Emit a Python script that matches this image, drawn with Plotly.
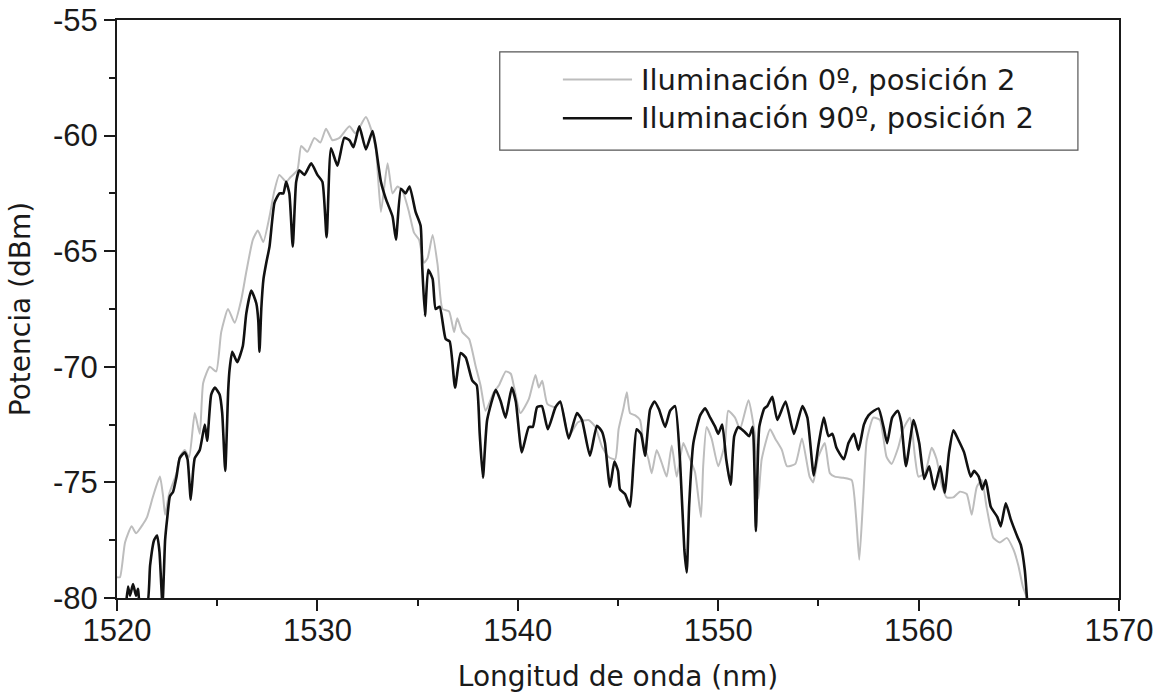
import plotly.graph_objects as go

# Optical spectra: wavelength (nm) vs power (dBm)
series_names = ["Iluminación 0º, posición 2", "Iluminación 90º, posición 2"]

wl_0deg = [
    1520.0, 1520.15, 1520.4, 1520.73, 1520.95, 1521.3, 1521.5, 1521.8, 1522.14, 1522.3,
    1522.4, 1522.6, 1522.97, 1523.13, 1523.38, 1523.6, 1523.88, 1524.13, 1524.3, 1524.63,
    1524.95, 1525.2, 1525.54, 1525.87, 1526.2, 1526.45, 1526.78, 1527.03, 1527.3, 1527.61,
    1527.85, 1528.1, 1528.44, 1528.65, 1529.0, 1529.19, 1529.5, 1529.85, 1530.15, 1530.43,
    1530.75, 1531.1, 1531.6, 1531.9, 1532.42, 1532.67, 1532.92, 1533.17, 1533.5, 1533.75,
    1534.0, 1534.25, 1534.57, 1534.82, 1535.07, 1535.32, 1535.5, 1535.75, 1536.0, 1536.24,
    1536.57, 1536.82, 1536.98, 1537.23, 1537.57, 1537.89, 1538.14, 1538.39, 1538.8, 1539.06,
    1539.4, 1539.65, 1539.82, 1540.13, 1540.55, 1540.88, 1541.05, 1541.22, 1541.47, 1541.88,
    1542.12, 1542.54, 1543.0, 1543.53, 1543.87, 1544.2, 1544.53, 1544.86, 1545.03, 1545.27,
    1545.44, 1545.6, 1545.86, 1546.1, 1546.27, 1546.52, 1546.68, 1546.93, 1547.18, 1547.43,
    1547.68, 1547.93, 1548.26, 1548.5, 1548.84, 1549.14, 1549.25, 1549.42, 1549.67, 1550.0,
    1550.34, 1550.5, 1550.84, 1551.09, 1551.51, 1551.84, 1552.0, 1552.17, 1552.59, 1552.84,
    1553.18, 1553.43, 1553.85, 1554.18, 1554.56, 1554.74, 1554.99, 1555.32, 1555.57, 1555.82,
    1556.24, 1556.66, 1556.88, 1557.04, 1557.24, 1557.41, 1557.74, 1558.07, 1558.4, 1558.65,
    1558.98, 1559.23, 1559.57, 1559.82, 1559.99, 1560.32, 1560.65, 1560.9, 1561.15, 1561.4,
    1561.73, 1562.06, 1562.4, 1562.65, 1562.9, 1563.15, 1563.4, 1563.73, 1564.06, 1564.4,
    1564.73, 1564.98, 1565.2, 1565.41, 1565.5,
]
pw_0deg = [
    -79.1, -79.1, -77.6, -76.9, -77.2, -76.8, -76.5, -75.6, -74.75, -75.6,
    -76.4, -75.5, -74.6, -73.9, -73.6, -73.9, -72.0, -72.9, -70.7, -70.0,
    -70.2, -68.5, -67.5, -68.1, -67.1, -65.9, -64.5, -64.1, -64.6, -63.5,
    -62.4, -61.7, -62.0, -61.8, -61.5, -60.45, -60.7, -60.1, -60.3, -59.7,
    -60.2, -60.1, -59.6, -59.9, -59.2, -59.7, -60.6, -63.3, -61.2, -62.5,
    -62.2, -62.4, -63.3, -64.2, -64.5, -65.5, -65.3, -64.3, -65.6, -67.5,
    -67.6, -68.5, -67.9, -68.5, -68.8, -69.95, -70.8, -71.9, -71.1, -70.8,
    -70.2, -70.3, -70.9, -72.0, -71.4, -70.35, -70.9, -70.6, -71.6, -71.75,
    -71.5, -73.0, -72.4, -72.3, -72.6, -73.45, -73.9, -74.0, -72.7, -71.8,
    -71.1, -72.0, -72.1, -72.3, -73.3, -74.0, -74.6, -73.6, -74.15, -74.75,
    -73.4, -74.75, -73.3, -73.8, -74.55, -76.5, -74.3, -72.6, -73.1, -74.3,
    -73.3, -71.9, -72.2, -72.7, -71.45, -73.0, -75.7, -74.0, -72.7, -73.1,
    -73.6, -74.3, -74.2, -73.1, -74.75, -75.0, -73.9, -73.3, -74.6, -74.75,
    -74.8, -74.9, -76.5, -78.35, -75.6, -73.2, -72.2, -72.3, -73.9, -74.2,
    -73.5, -72.7, -72.2, -73.9, -74.75, -74.6, -73.5, -74.0, -75.1, -75.65,
    -75.65, -75.4, -75.5, -76.4, -75.2, -74.9, -76.1, -77.4, -77.6, -77.4,
    -77.9, -78.6, -79.5, -80.0, -80.3,
]

wl_90deg = [
    1520.45, 1520.55, 1520.65, 1520.8, 1520.95, 1521.05, 1521.15, 1521.5, 1521.65, 1521.85,
    1522.0, 1522.12, 1522.27, 1522.4, 1522.5, 1522.64, 1522.8, 1522.97, 1523.13, 1523.38,
    1523.52, 1523.68, 1523.8, 1523.88, 1524.13, 1524.38, 1524.5, 1524.7, 1524.88, 1525.12,
    1525.25, 1525.4, 1525.55, 1525.62, 1525.75, 1526.0, 1526.28, 1526.45, 1526.7, 1526.95,
    1527.05, 1527.11, 1527.2, 1527.31, 1527.45, 1527.61, 1527.86, 1528.11, 1528.3, 1528.44,
    1528.6, 1528.77, 1528.94, 1529.1, 1529.35, 1529.69, 1530.0, 1530.25, 1530.46, 1530.68,
    1531.0, 1531.34, 1531.6, 1531.8, 1532.09, 1532.42, 1532.75, 1532.9, 1533.17, 1533.42,
    1533.75, 1533.92, 1534.17, 1534.4, 1534.6, 1534.9, 1535.15, 1535.23, 1535.37, 1535.53,
    1535.75, 1535.9, 1536.1, 1536.4, 1536.6, 1536.87, 1537.15, 1537.4, 1537.73, 1537.95,
    1538.1, 1538.26, 1538.47, 1538.9, 1539.15, 1539.39, 1539.7, 1539.9, 1540.2, 1540.55,
    1540.75, 1540.96, 1541.2, 1541.5, 1541.88, 1542.12, 1542.54, 1542.95, 1543.2, 1543.6,
    1543.95, 1544.2, 1544.35, 1544.6, 1544.82, 1545.0, 1545.1, 1545.35, 1545.6, 1545.77,
    1545.93, 1546.15, 1546.35, 1546.6, 1546.82, 1547.05, 1547.35, 1547.6, 1547.85, 1548.1,
    1548.31, 1548.43, 1548.55, 1548.76, 1549.1, 1549.35, 1549.6, 1549.85, 1550.0, 1550.2,
    1550.4, 1550.62, 1550.8, 1551.0, 1551.3, 1551.55, 1551.72, 1551.88, 1552.05, 1552.3,
    1552.45, 1552.7, 1552.95, 1553.36, 1553.78, 1554.2, 1554.45, 1554.77, 1555.0, 1555.27,
    1555.5, 1555.7, 1555.9, 1556.27, 1556.5, 1556.77, 1557.0, 1557.27, 1557.5, 1557.77,
    1558.0, 1558.25, 1558.43, 1558.68, 1558.96, 1559.13, 1559.37, 1559.75, 1560.03, 1560.28,
    1560.53, 1560.78, 1561.08, 1561.3, 1561.52, 1561.74, 1561.95, 1562.27, 1562.6, 1562.77,
    1563.0, 1563.18, 1563.35, 1563.6, 1563.93, 1564.1, 1564.35, 1564.6, 1564.93, 1565.1,
    1565.3, 1565.43,
]
pw_90deg = [
    -80.3, -79.5, -79.9, -79.4, -79.9, -79.6, -80.3, -80.3, -78.6, -77.5,
    -77.3, -78.0, -80.3, -77.5, -76.6, -75.6, -75.4, -74.75, -73.95, -73.7,
    -74.0, -75.75, -74.5, -73.95, -73.6, -72.5, -73.2, -71.2, -70.9, -71.2,
    -72.0, -74.5, -71.0, -70.1, -69.35, -69.8, -69.1, -67.7, -66.7, -67.25,
    -68.0, -69.35, -67.5, -66.2, -65.5, -64.8, -62.9, -62.5, -62.5, -62.0,
    -62.5, -64.8, -62.0, -61.5, -61.7, -61.2, -61.7, -62.0, -64.4, -60.55,
    -61.3, -60.1, -60.2, -60.5, -59.6, -60.6, -59.8, -60.4, -62.0, -62.75,
    -63.5, -64.5, -62.3, -62.5, -62.2, -63.3, -63.9, -65.65, -67.8, -65.8,
    -66.2, -67.5, -67.4, -68.8, -68.9, -70.9, -69.4, -69.6, -70.6, -70.8,
    -72.9, -74.8, -72.3, -71.0, -71.5, -72.2, -70.9, -71.5, -73.7, -72.6,
    -72.6, -71.75, -71.7, -72.7, -71.75, -71.5, -73.1, -72.0, -72.3, -73.85,
    -72.55, -72.8, -73.3, -75.2, -74.1, -74.5, -75.3, -75.5, -76.05, -74.2,
    -72.7, -72.9, -73.85, -71.85, -71.5, -71.85, -72.6, -71.9, -71.7, -74.15,
    -77.9, -78.9, -76.0, -73.3, -72.1, -71.8, -72.2, -72.6, -72.9, -72.5,
    -74.0, -75.1, -73.0, -72.6, -72.8, -73.0, -72.6, -77.1, -72.6, -71.8,
    -71.7, -71.3, -72.3, -71.5, -72.9, -71.7, -72.2, -74.7, -73.4, -72.2,
    -73.0, -72.9, -73.5, -74.0, -73.3, -72.9, -73.6, -72.5, -72.1, -71.9,
    -71.8, -72.6, -73.3, -72.2, -71.9, -72.4, -74.3, -72.3, -73.3, -74.85,
    -74.3, -75.3, -74.3, -75.45, -73.7, -72.75, -73.1, -73.7, -74.75, -74.5,
    -74.75, -75.3, -74.9, -76.05, -76.5, -76.9, -75.9, -76.6, -77.35, -77.7,
    -78.8, -80.3,
]

x_ticks = [1520, 1530, 1540, 1550, 1560, 1570]
y_ticks = [-80, -75, -70, -65, -60, -55]

line_colors = ["#bdbdbd", "#111111"]
line_widths = [2, 2.6]

fig = go.Figure()
for name, xs, ys, col, w in zip(series_names, [wl_0deg, wl_90deg], [pw_0deg, pw_90deg],
                                line_colors, line_widths):
    fig.add_trace(go.Scatter(
        x=xs, y=ys, mode="lines", name=name,
        line=dict(color=col, width=w, shape="spline", smoothing=0.5),
        showlegend=False,
    ))

# Boxed legend drawn in paper coordinates
leg_x0, leg_x1, leg_y0, leg_y1 = 0.382, 0.959, 0.775, 0.945
fig.add_shape(type="rect", xref="paper", yref="paper",
              x0=leg_x0, x1=leg_x1, y0=leg_y0, y1=leg_y1,
              line=dict(color="#555555", width=1.2), fillcolor="white", layer="above")
row_y = [0.897, 0.830]
for name, col, w, yy in zip(series_names, line_colors, line_widths, row_y):
    fig.add_shape(type="line", xref="paper", yref="paper",
                  x0=0.445, x1=0.514, y0=yy, y1=yy,
                  line=dict(color=col, width=w), layer="above")
    fig.add_annotation(xref="paper", yref="paper", x=0.521, y=yy, text=name,
                       showarrow=False, xanchor="left", yanchor="middle",
                       font=dict(family="DejaVu Sans", size=29, color="#1a1a1a"))

axis_common = dict(
    showline=True, linecolor="#1a1a1a", linewidth=2, mirror=True,
    ticks="outside", ticklen=11, tickwidth=2, tickcolor="#1a1a1a",
    showgrid=False, zeroline=False,
    tickfont=dict(family="Liberation Sans, Arial", size=31, color="#1a1a1a"),
)

fig.update_xaxes(
    range=[1520, 1570], tickvals=x_ticks, ticktext=[str(v) for v in x_ticks],
    minor=dict(dtick=5, ticks="outside", ticklen=6, tickwidth=2, tickcolor="#1a1a1a"),
    title=dict(text="Longitud de onda (nm)", standoff=19,
               font=dict(family="DejaVu Sans", size=28, color="#1a1a1a")),
    ticklabelstandoff=-7,
    **axis_common,
)
fig.update_yaxes(
    range=[-80, -55], tickvals=y_ticks, ticktext=[str(v) for v in y_ticks],
    minor=dict(dtick=2.5, ticks="outside", ticklen=6, tickwidth=2, tickcolor="#1a1a1a"),
    title=dict(text="Potencia (dBm)", standoff=14,
               font=dict(family="DejaVu Sans", size=28, color="#1a1a1a")),
    ticklabelstandoff=0,
    **axis_common,
)

fig.update_layout(
    width=1167, height=700,
    margin=dict(l=117, r=48, t=20, b=102, autoexpand=False),
    plot_bgcolor="white", paper_bgcolor="white",
)

fig.write_html("out.html")
